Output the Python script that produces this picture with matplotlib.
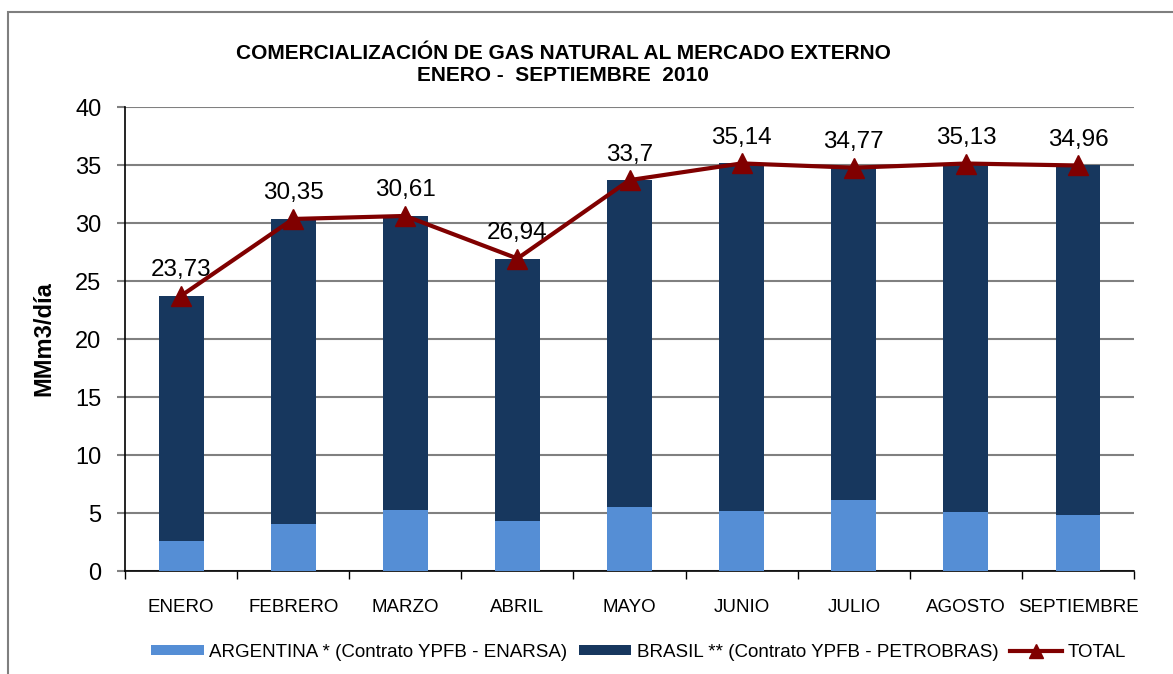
import matplotlib
matplotlib.use("Agg")
import matplotlib.pyplot as plt
from matplotlib.patches import Rectangle
import numpy as np

plt.rcParams["font.family"] = ["Liberation Sans", "DejaVu Sans"]

months = ["ENERO", "FEBRERO", "MARZO", "ABRIL", "MAYO", "JUNIO", "JULIO",
          "AGOSTO", "SEPTIEMBRE"]
total = [23.73, 30.35, 30.61, 26.94, 33.7, 35.14, 34.77, 35.13, 34.96]
argentina = [2.59, 4.05, 5.26, 4.28, 5.54, 5.17, 6.09, 5.09, 4.85]
brasil = [t - a for t, a in zip(total, argentina)]
total_labels = ["23,73", "30,35", "30,61", "26,94", "33,7", "35,14", "34,77",
                "35,13", "34,96"]

C_ARG = "#558ED5"
C_BRA = "#17375E"
C_TOT = "#800000"

fig = plt.figure(figsize=(11.73, 6.74), dpi=100)
ax = fig.add_axes([0.1066, 0.1528, 0.8602, 0.6884])

# outer chart frame
fig.patches.append(Rectangle((8 / 1173, -0.1), 1.2, 1 - 12 / 674 + 0.1,
                             transform=fig.transFigure, fill=False,
                             edgecolor="#7f7f7f", linewidth=1.5))

x = np.arange(len(months))
w = 0.4
ax.bar(x, argentina, width=w, color=C_ARG, zorder=3,
       label="ARGENTINA * (Contrato YPFB - ENARSA)")
ax.bar(x, brasil, width=w, bottom=argentina, color=C_BRA, zorder=3,
       label="BRASIL ** (Contrato YPFB - PETROBRAS)")
ax.plot(x, total, color=C_TOT, linewidth=3, marker="^", markersize=14,
        zorder=4, label="TOTAL")
for xi, t, lab in zip(x, total, total_labels):
    ax.text(xi, t + 2.2, lab, ha="center", va="center", fontsize=17.5)

ax.set_xlim(-0.5, len(months) - 0.5)
ax.set_ylim(0, 40)
ax.set_yticks(range(0, 41, 5))
ax.tick_params(axis="y", labelsize=17, direction="out", length=6, width=1.5,
               color="#808080", pad=11)
ax.set_xticks(x)
ax.set_xticklabels(months, fontsize=13.5)
ax.tick_params(axis="x", length=0, pad=20)
ax.set_xticks(np.arange(-0.5, len(months), 1), minor=True)
ax.tick_params(axis="x", which="minor", length=6, width=1, direction="out")
ax.grid(axis="y", color="#808080", linewidth=1.5, zorder=0)
for s in ["top", "right"]:
    ax.spines[s].set_visible(False)
ax.spines["left"].set_linewidth(1.2)
ax.spines["bottom"].set_linewidth(1.2)
ax.set_ylabel("MMm3/día", fontsize=17, fontweight="bold", labelpad=14)

fig.text(0.48, 0.905, "COMERCIALIZACIÓN DE GAS NATURAL AL MERCADO EXTERNO\n"
         "ENERO -  SEPTIEMBRE  2010", ha="center", va="center",
         fontsize=15, fontweight="bold", linespacing=1.2)

handles, labels = ax.get_legend_handles_labels()
order = [1, 2, 0]
leg = ax.legend([handles[i] for i in order], [labels[i] for i in order],
                loc="center", bbox_to_anchor=(0.509, -0.175), ncol=3,
                frameon=False, fontsize=13.5, handlelength=2.8,
                handleheight=0.5, handletextpad=0.3, columnspacing=0.6)
leg.legend_handles[2].set_markersize(10)

fig.savefig("out.png", dpi=100)
